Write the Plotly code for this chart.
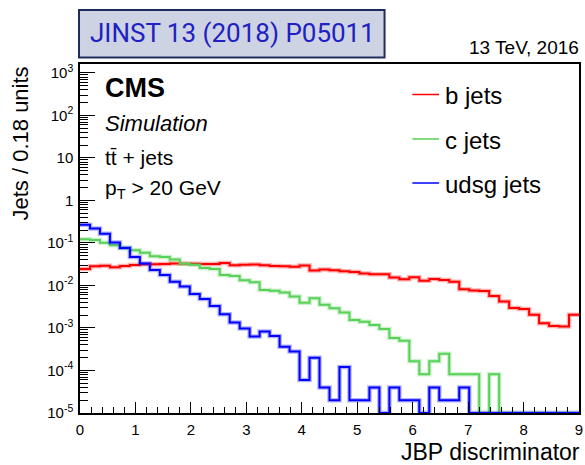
import numpy as np
import plotly.graph_objects as go

# JBP discriminator, jets per 0.18 units (simulation, ttbar + jets, pT > 20 GeV)
BIN_WIDTH = 0.18
N_BINS = 50
edges = np.arange(N_BINS + 1) * BIN_WIDTH

b_jets = [
    0.0244, 0.0282, 0.0292, 0.0267, 0.0287, 0.0303, 0.0315, 0.0315, 0.0320, 0.0328,
    0.0325, 0.0325, 0.0320, 0.0320, 0.0337, 0.0298, 0.0308, 0.0310, 0.0298, 0.0287,
    0.0283, 0.0276, 0.0294, 0.0225, 0.0238, 0.0229, 0.0217, 0.0207, 0.0191, 0.0183,
    0.0183, 0.0154, 0.0141, 0.0156, 0.0130, 0.0142, 0.0135, 0.0122, 0.0082, 0.0076,
    0.0074, 0.00568, 0.00417, 0.00297, 0.0028, 0.00206, 0.0013, 0.00112, 0.00108, 0.00205,
]
c_jets = [
    0.122, 0.117, 0.101, 0.088, 0.077, 0.067, 0.059, 0.049, 0.047, 0.041,
    0.0325, 0.0308, 0.0258, 0.0244, 0.0176, 0.0167, 0.0132, 0.0119, 0.0078, 0.0075,
    0.0068, 0.0055, 0.0039, 0.0050, 0.0035, 0.0029, 0.0023, 0.00155, 0.00141, 0.00118,
    0.00094, 0.00058, 0.00050, 1.64e-4, 8.2e-5, 1.64e-4, 2.46e-4, 8.2e-5, 8.2e-5, 8.2e-5,
    0, 8.2e-5, 0, 0, 0, 0, 0, 0, 0, 0,
]
udsg_jets = [
    0.27, 0.22, 0.164, 0.103, 0.076, 0.047, 0.033, 0.023, 0.0176, 0.0123,
    0.0095, 0.0063, 0.0048, 0.0033, 0.0021, 0.00135, 0.00097, 0.00063, 0.00083, 0.00065,
    0.00036, 0.00028, 6e-5, 2e-4, 4e-5, 2e-5, 1.2e-4, 2e-5, 2e-5, 4e-5,
    0, 4e-5, 2e-5, 2e-5, 0, 4e-5, 2e-5, 2e-5, 4e-5, 0,
    0, 0, 0, 0, 0, 0, 0, 0, 0, 0,
]

series_names = ["b jets", "c jets", "udsg jets"]
series_values = [b_jets, c_jets, udsg_jets]
series_colors = ["#ff0000", "#57d157", "#0000ff"]
series_halo = ["rgba(255,0,0,0.3)", "rgba(87,209,87,0.3)", "rgba(0,0,255,0.3)"]

Y_MIN_EXP, Y_MAX_EXP = -5, 3.21
X_MIN, X_MAX = 0, 9
Y_FLOOR = 10.0 ** Y_MIN_EXP

y_tick_vals = [10.0 ** k for k in range(-5, 4)]
y_tick_text = ["10<sup>-5</sup>", "10<sup>-4</sup>", "10<sup>-3</sup>", "10<sup>-2</sup>",
               "10<sup>-1</sup>", "1", "10", "10<sup>2</sup>", "10<sup>3</sup>"]
y_minor_vals = [m * 10.0 ** k for k in range(-5, 3) for m in range(2, 10)] + \
               [m * 1000.0 for m in range(2, 10)]

FONT = "Liberation Sans, Arial, Helvetica, sans-serif"

W, H = 585, 465
L, R, T, B = 80, 2, 64, 52
PW, PH = W - L - R, H - T - B


def px(x):
    return (x - L) / PW


def py(y):
    return (H - B - y) / PH


fig = go.Figure()

for name, vals, col, halo in zip(series_names, series_values, series_colors, series_halo):
    v = np.asarray(vals, dtype=float)
    v = np.where(v > 0, v, Y_FLOOR)  # empty bins sit on the axis floor
    ys = np.append(v, v[-1])
    fig.add_trace(go.Scatter(x=edges, y=ys, mode="lines", line=dict(color=halo, width=4.5, shape="hv"),
                             hoverinfo="skip", showlegend=False))
    fig.add_trace(go.Scatter(x=edges, y=ys, mode="lines", name=name,
                             line=dict(color=col, width=2, shape="hv"), showlegend=False))

fig.update_xaxes(
    range=[X_MIN, X_MAX], showgrid=False, zeroline=False,
    showline=True, linecolor="black", linewidth=1.5, mirror=True,
    ticks="inside", ticklen=11, tickwidth=1.2, tickcolor="black",
    tickmode="array", tickvals=list(range(0, 10)),
    minor=dict(ticks="inside", ticklen=6, tickwidth=1.2, tickcolor="black", dtick=0.2, tick0=0),
    tickfont=dict(family=FONT, size=15, color="black"),
    ticklabelstandoff=2, ticklabeloverflow="allow",
)
fig.update_yaxes(
    type="log", range=[Y_MIN_EXP, Y_MAX_EXP], showgrid=False, zeroline=False,
    showline=True, linecolor="black", linewidth=1.5, mirror=True,
    ticks="inside", ticklen=15, tickwidth=1.2, tickcolor="black",
    tickmode="array", tickvals=y_tick_vals, ticktext=y_tick_text,
    minor=dict(ticks="inside", ticklen=8, tickwidth=1.2, tickcolor="black",
               tickmode="array", tickvals=y_minor_vals),
    tickfont=dict(family=FONT, size=15, color="black"),
    ticklabelstandoff=2, ticklabeloverflow="allow",
)

annotations = [
    dict(text="<b>CMS</b>", x=px(103), y=py(88), xanchor="left", yanchor="middle",
         font=dict(family=FONT, size=27, color="black")),
    dict(text="<i>Simulation</i>", x=px(103), y=py(123), xanchor="left", yanchor="middle",
         font=dict(family=FONT, size=22, color="black")),
    dict(text="tt\u0304 + jets", x=px(103), y=py(157), xanchor="left", yanchor="middle",
         font=dict(family=FONT, size=21, color="black")),
    dict(text="p<sub>T</sub> > 20 GeV", x=px(103), y=py(189), xanchor="left", yanchor="middle",
         font=dict(family=FONT, size=21, color="black")),
    dict(text="13 TeV, 2016", x=px(585), y=py(47), xanchor="right", yanchor="middle",
         font=dict(family=FONT, size=19, color="black")),
    dict(text="Jets / 0.18 units", x=px(20), y=py(64), xanchor="center", yanchor="top",
         textangle=-90, font=dict(family=FONT, size=22, color="black")),
    dict(text="JBP discriminator", x=px(586), y=py(452), xanchor="right", yanchor="middle",
         font=dict(family=FONT, size=23, color="black")),
    dict(text="JINST 13 (2018) P05011", x=px(234), y=py(33), xanchor="center", yanchor="middle",
         font=dict(family="Roboto, sans-serif", size=26, color="#2020c4")),
]

# legend: short line sample followed by the label
legend_rows_y = [94.5, 139, 183]
for name, col, yy in zip(series_names, series_colors, legend_rows_y):
    fig.add_shape(type="line", xref="paper", yref="paper", x0=px(415), x1=px(442),
                  y0=py(yy), y1=py(yy), line=dict(color=col, width=1.5))
    annotations.append(dict(text=name, x=px(446), y=py(yy + 1), xanchor="left", yanchor="middle",
                            font=dict(family=FONT, size=24, color="black")))

for a in annotations:
    a.update(xref="paper", yref="paper", showarrow=False)

fig.add_shape(type="rect", xref="paper", yref="paper", x0=px(79), x1=px(387), y0=py(57.5), y1=py(10),
              fillcolor="#cdd3e2", line=dict(color="#1f2d5c", width=2), layer="below")

fig.update_layout(
    width=W, height=H, margin=dict(l=L, r=R, t=T, b=B),
    paper_bgcolor="white", plot_bgcolor="white",
    annotations=annotations, showlegend=False,
)

fig.write_html("out.html")
